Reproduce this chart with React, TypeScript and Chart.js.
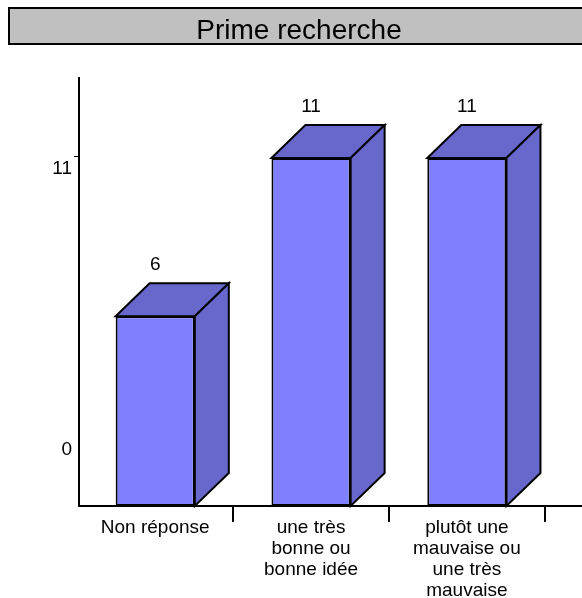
import React, { useEffect, useRef } from "react";
import { Chart, registerables } from "chart.js";

Chart.register(...registerables);

const titleText = "Prime recherche";
const categories = [["Non réponse"], ["une très", "bonne ou", "bonne idée"], ["plutôt une", "mauvaise ou", "une très", "mauvaise"]];
const values = [6, 11, 11];
const yTicks = [0, 11];
const yMax = 13.56;

const FONT = '"Liberation Sans", Arial, sans-serif';
const FRONT = "#8080FF";
const SHADE = "#6868CC";
const DX = 34;
const DY = 33;

const decor = {
  id: "decor",
  beforeDraw(chart: any) {
    const c = chart.ctx;
    c.save();
    c.fillStyle = "#C0C0C0";
    c.strokeStyle = "#000";
    c.lineWidth = 2;
    c.fillRect(9, 8, 600, 36);
    c.strokeRect(9, 8, 600, 36);
    c.fillStyle = "#000";
    c.font = `28px ${FONT}`;
    c.textAlign = "center";
    c.textBaseline = "middle";
    c.fillText(titleText, 299, 31);
    c.restore();
  },
  afterDatasetsDraw(chart: any) {
    const c = chart.ctx;
    const meta = chart.getDatasetMeta(0);
    const y = chart.scales.y;
    c.save();
    c.lineWidth = 2;
    c.strokeStyle = "#000";
    c.lineJoin = "miter";
    meta.data.forEach((bar: any, i: number) => {
      const l = bar.x - bar.width / 2;
      const r = bar.x + bar.width / 2;
      const t = bar.y;
      const b = bar.base;
      c.fillStyle = SHADE;
      c.beginPath();
      c.moveTo(l, t);
      c.lineTo(l + DX, t - DY);
      c.lineTo(r + DX, t - DY);
      c.lineTo(r, t);
      c.closePath();
      c.fill();
      c.stroke();
      c.beginPath();
      c.moveTo(r, t);
      c.lineTo(r + DX, t - DY);
      c.lineTo(r + DX, b - DY);
      c.lineTo(r, b);
      c.closePath();
      c.fill();
      c.stroke();
      c.fillStyle = "#000";
      c.font = `19px ${FONT}`;
      c.textAlign = "center";
      c.textBaseline = "middle";
      c.fillText(String(values[i]), bar.x, t - DY - 18.5);
    });
    const base = y.getPixelForValue(0);
    // value axis line and the baseline, which runs on to the picture's edge
    c.beginPath();
    c.moveTo(79, chart.chartArea.top);
    c.lineTo(79, base + 1);
    c.moveTo(78, base);
    c.lineTo(582, base);
    c.stroke();
    // value axis labels sit off their ticks, as in the source
    c.fillStyle = "#000";
    c.font = `19px ${FONT}`;
    c.textAlign = "right";
    c.textBaseline = "middle";
    yTicks.forEach((v) => {
      const py = y.getPixelForValue(v);
      c.fillText(String(v), 72, v === 0 ? py - 56 : py + 11);
      if (v !== 0) {
        c.lineWidth = 1;
        c.beginPath();
        c.moveTo(74, py - 1.5);
        c.lineTo(80, py - 1.5);
        c.stroke();
      }
    });
    c.restore();
  },
};

export default function App() {
  const ref = useRef<HTMLCanvasElement>(null);
  useEffect(() => {
    document.body.style.margin = "0";
    const chart = new Chart(ref.current!, {
      type: "bar",
      data: {
        labels: categories as any,
        datasets: [
          {
            data: values,
            backgroundColor: FRONT,
            borderColor: "#000",
            borderWidth: 2,
            borderSkipped: false,
            barPercentage: 0.508,
            categoryPercentage: 1,
          },
        ],
      },
      options: {
        animation: false,
        responsive: false,
        layout: { padding: { top: 77, right: 37.2, left: 0, bottom: 0 } },
        plugins: { legend: { display: false }, tooltip: { enabled: false }, title: { display: false } },
        scales: {
          x: {
            offset: true,
            afterFit: (s: any) => { s.height = 92; },
            border: { display: false },
            grid: {
              offset: true,
              drawOnChartArea: false,
              drawTicks: true,
              tickLength: 16,
              lineWidth: 2,
              tickColor: (ctx: any) => (ctx.index === 0 ? "rgba(0,0,0,0)" : "#000"),
              color: "#000",
            },
            ticks: {
              color: "#000",
              font: { family: FONT, size: 19, lineHeight: 1.105 },
              maxRotation: 0,
              autoSkip: false,
              padding: -5,
            },
          },
          y: {
            min: 0,
            max: yMax,
            afterBuildTicks: (s: any) => { s.ticks = yTicks.map((value) => ({ value })); },
            afterFit: (s: any) => { s.width = 77.3; },
            border: { display: false },
            grid: { display: false },
            ticks: { display: false },
          },
        },
      },
      plugins: [decor],
    } as any);
    return () => chart.destroy();
  }, []);
  return <canvas ref={ref} width={582} height={598} style={{ display: "block" }} />;
}
